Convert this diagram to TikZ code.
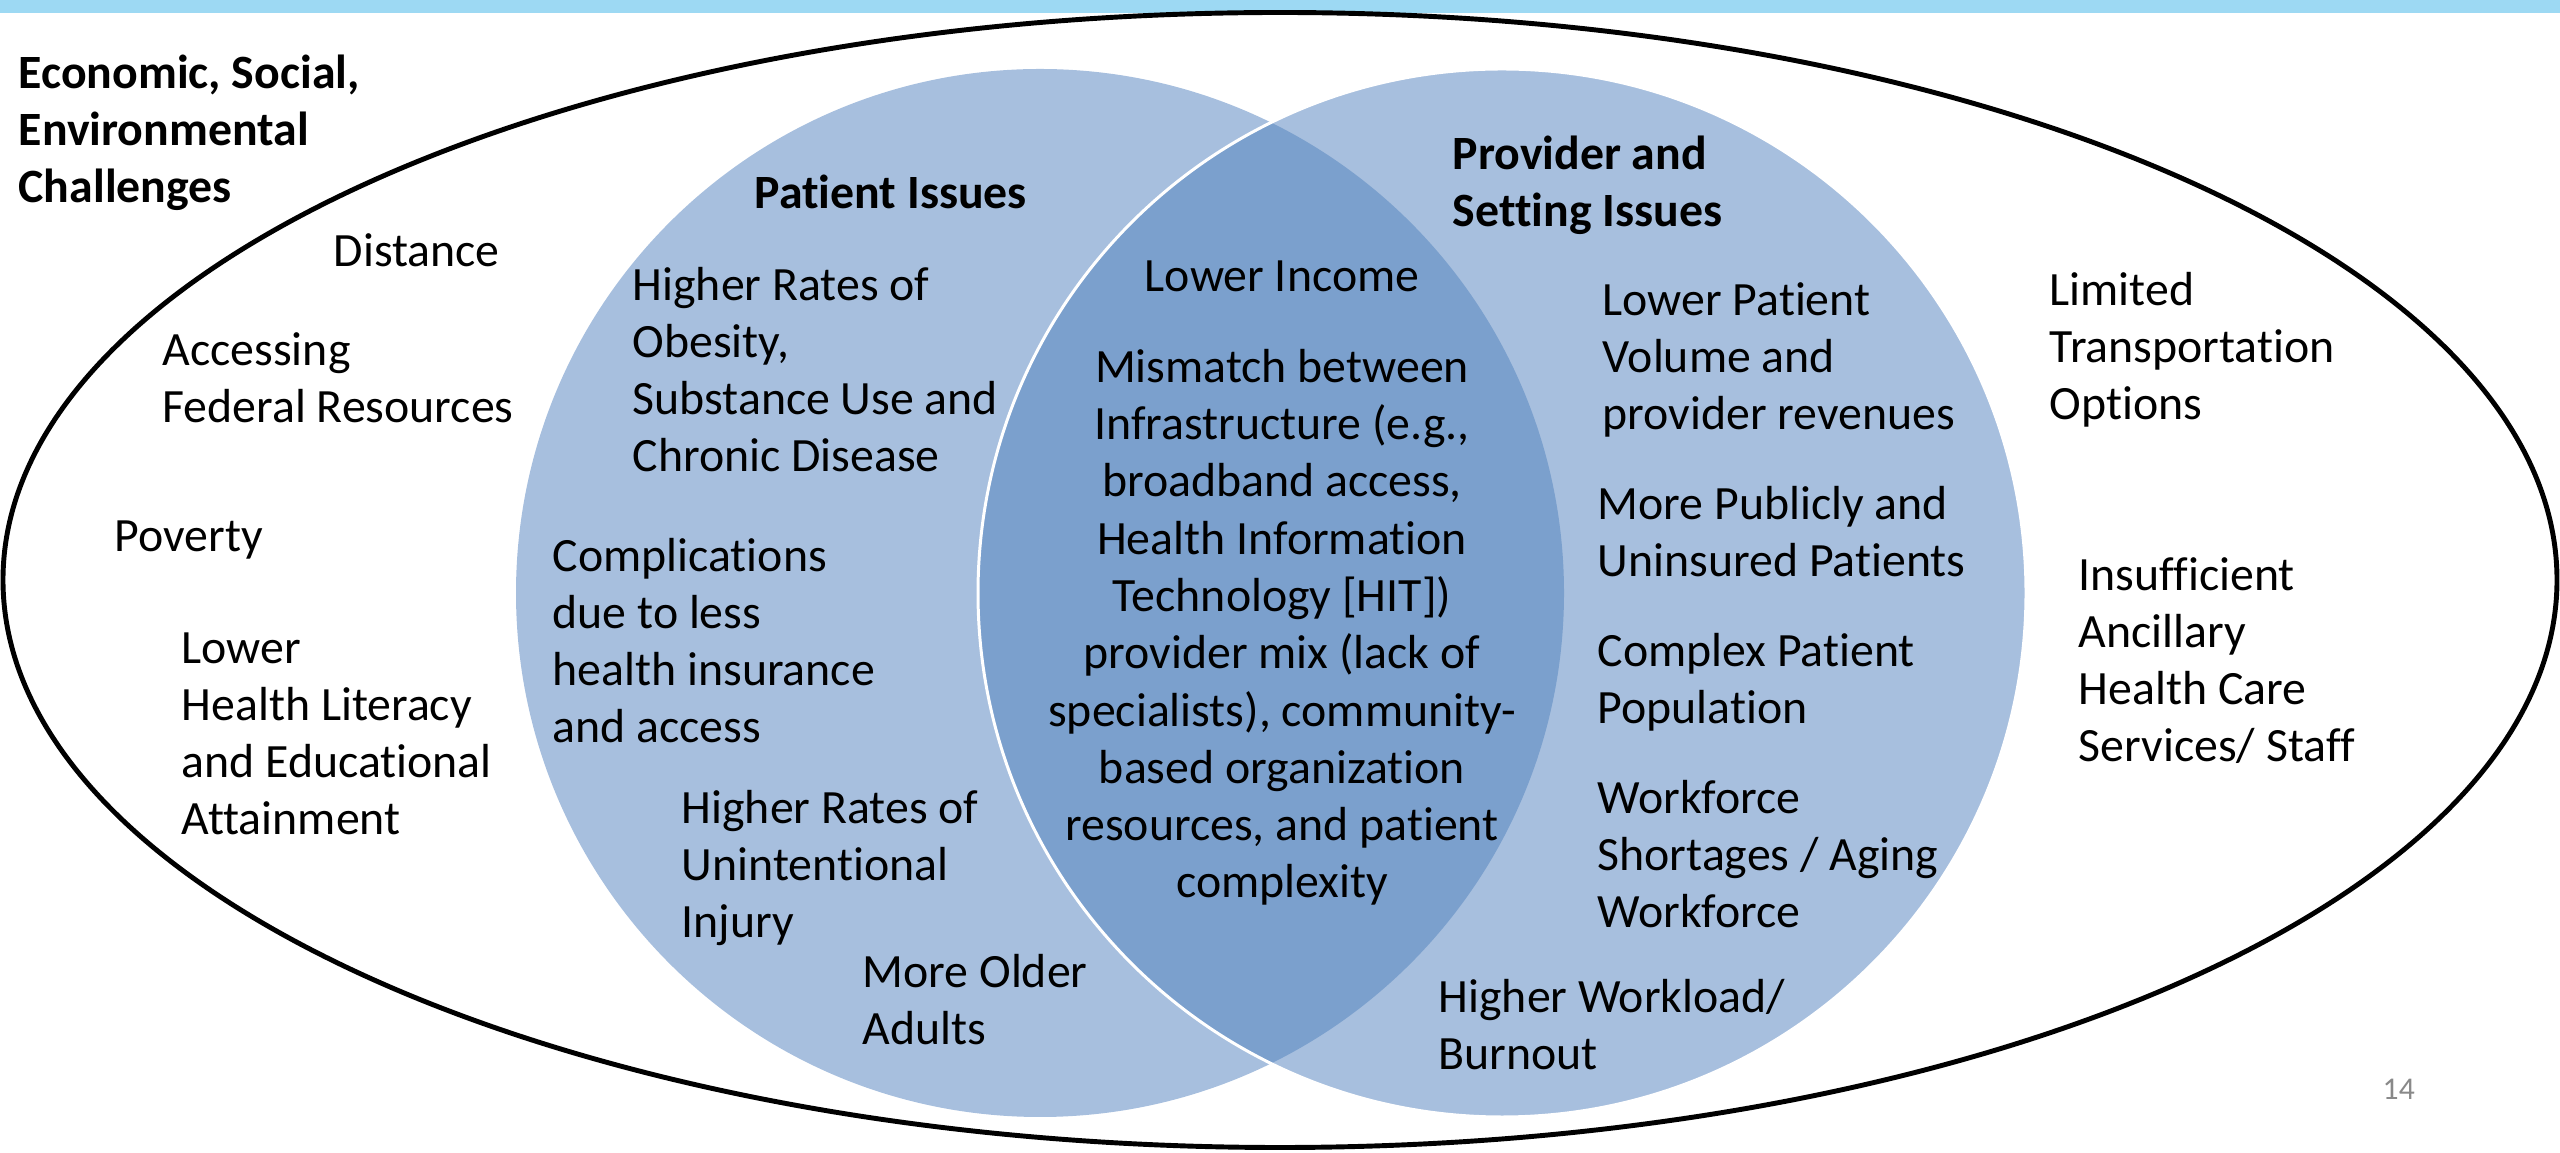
\documentclass[tikz,border=0pt]{standalone}
\usepackage{fontspec}
\setmainfont{Carlito}[Ligatures=NoCommon]
\usepackage{xcolor}
\usepackage{tikz}
\definecolor{topBand}{RGB}{157,217,243}
\definecolor{vennLight}{RGB}{167,191,222}
\definecolor{vennDark}{RGB}{123,160,205}
\definecolor{pageNum}{RGB}{137,137,137}
\def\vennRadius{5.24}
\def\vennGap{2.31}
\def\vennMid{12.71}
\newcommand{\issueFont}{\fontsize{13.6pt}{16.3pt}\selectfont}
% multi-line nodes sit on the baseline of their last line
\tikzset{
  issue/.style={font=\issueFont, align=left, inner sep=0pt, anchor=base west},
  heading/.style={issue, font=\issueFont\bfseries},
  overlap/.style={issue, align=center, anchor=base},
}

\begin{document}
\begin{tikzpicture}
            \useasboundingbox (0,0) rectangle (25.6,-11.53);

            % Draw top band and outer ellipse
            \fill[topBand] (0,0) rectangle (25.6,-0.13);
            \draw[line width=1.4pt] (12.8,-5.80) ellipse [x radius=12.77, y radius=5.675];

            % Draw venn circles
            \coordinate (patientC) at ({\vennMid - \vennGap}, -5.93);
            \coordinate (providerC) at ({\vennMid + \vennGap}, -5.93);
            \fill[vennLight] (patientC) circle (\vennRadius);
            \fill[vennLight] (providerC) circle (\vennRadius);
            \begin{scope}
                \clip (patientC) circle (\vennRadius);
                \fill[vennDark] (providerC) circle (\vennRadius);
            \end{scope}
            \draw[white, line width=0.85pt] (providerC) circle (\vennRadius);

            % Draw outer challenges
            \node[heading] (econ) at (0.18,-2.03) {Economic, Social,\\Environmental\\Challenges};
            \node[issue] (distance) at (3.33,-2.67) {Distance};
            \node[issue] (federal) at (1.62,-4.23) {Accessing\\Federal Resources};
            \node[issue] (poverty) at (1.14,-5.52) {Poverty};
            \node[issue] (literacy) at (1.81,-8.35) {Lower\\Health Literacy\\and Educational\\Attainment};
            \node[issue] (transport) at (20.49,-4.20) {Limited\\Transportation\\Options};
            \node[issue] (ancillary) at (20.78,-7.62) {Insufficient\\Ancillary\\Health Care\\Services/ Staff};

            % Draw patient issues
            \node[heading] (patient) at (7.54,-2.09) {Patient Issues};
            \node[issue] (obesity) at (6.32,-4.72) {Higher Rates of\\Obesity,\\Substance Use and\\Chronic Disease};
            \node[issue] (insurance) at (5.52,-7.43) {Complications\\due to less\\health insurance\\and access};
            \node[issue] (injury) at (6.81,-9.38) {Higher Rates of\\Unintentional\\Injury};
            \node[issue] (older) at (8.62,-10.45) {More Older\\Adults};

            % Draw shared issues
            \node[overlap] (income) at (12.82,-2.92) {Lower Income};
            \node[overlap] (mismatch) at (12.82,-8.98) {Mismatch between\\Infrastructure (e.g.,\\broadband access,\\Health Information\\Technology [HIT])\\provider mix (lack of\\specialists), community-\\based organization\\resources, and patient\\complexity};

            % Draw provider and setting issues
            \node[heading] (provider) at (14.52,-2.27) {Provider and\\Setting Issues};
            \node[issue] (volume) at (16.02,-4.30) {Lower Patient\\Volume and\\provider revenues};
            \node[issue] (uninsured) at (15.97,-5.77) {More Publicly and\\Uninsured Patients};
            \node[issue] (complex) at (15.97,-7.24) {Complex Patient\\Population};
            \node[issue] (workforce) at (15.97,-9.28) {Workforce\\Shortages / Aging\\Workforce};
            \node[issue] (burnout) at (14.38,-10.70) {Higher Workload/\\Burnout};

            % Draw page number
            \node[issue, font=\fontsize{9pt}{11pt}\selectfont, text=pageNum] (page) at (23.82,-10.99) {14};
        \end{tikzpicture}
\end{document}
